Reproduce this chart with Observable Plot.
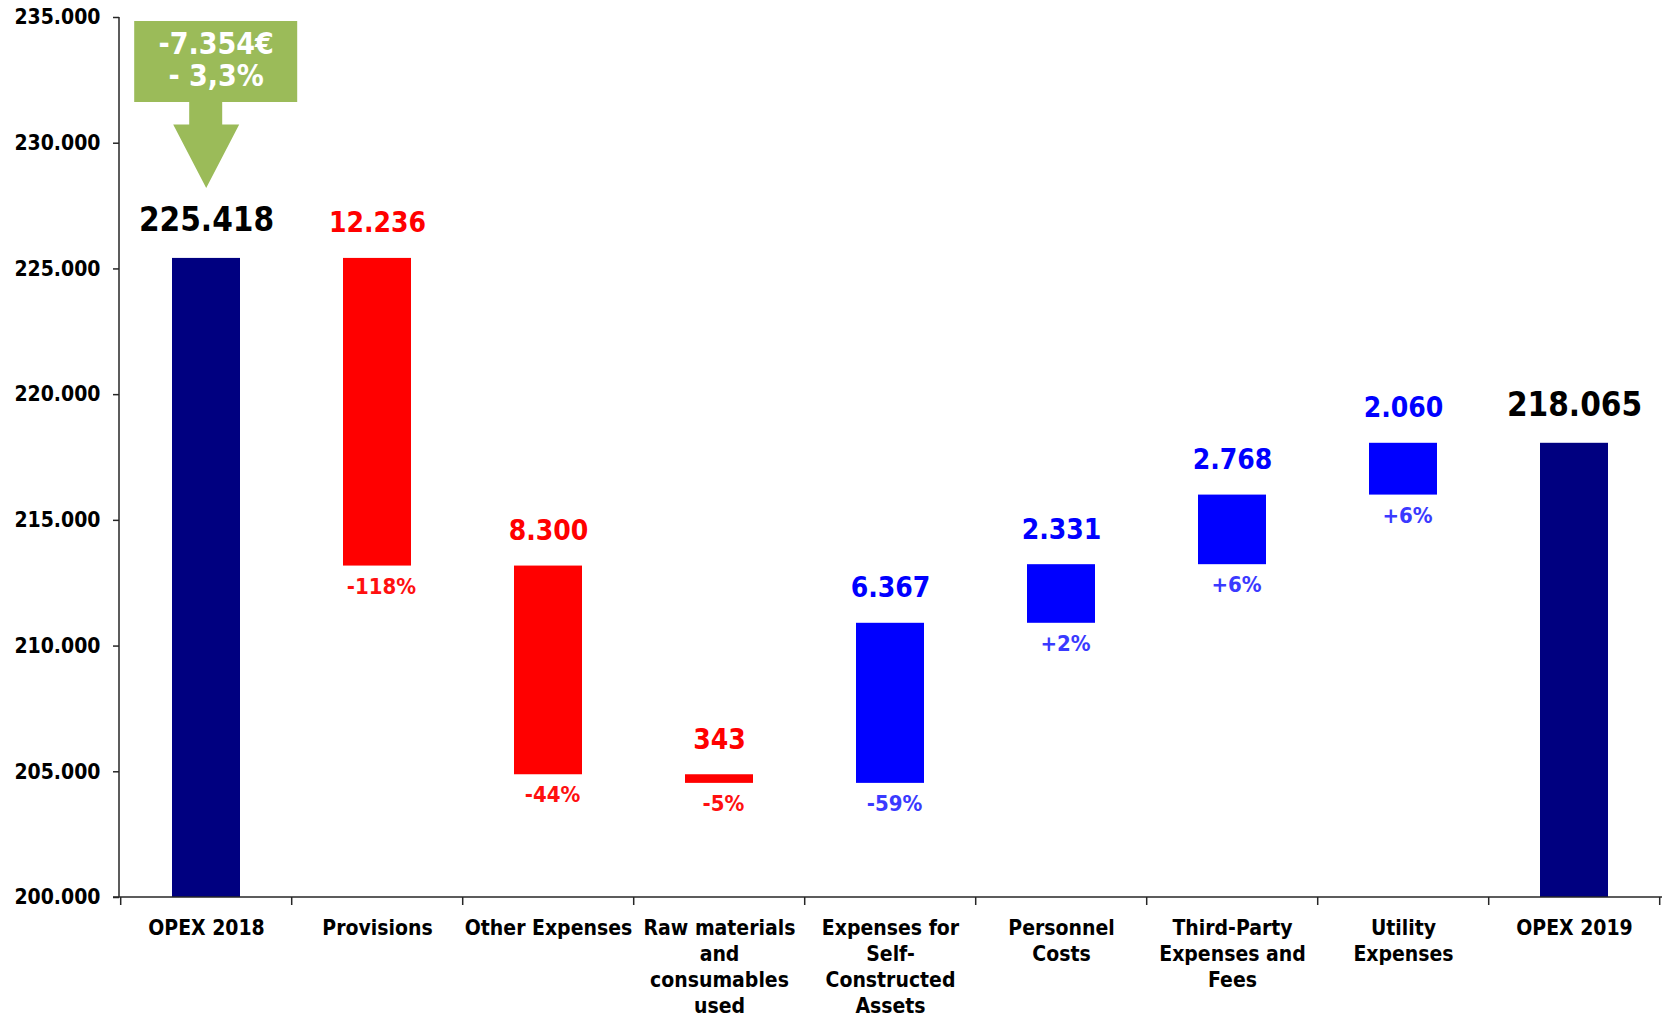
<!DOCTYPE html>
<html>
<head>
<meta charset="utf-8">
<script src="https://cdn.jsdelivr.net/npm/d3@7"></script>
<script src="https://cdn.jsdelivr.net/npm/@observablehq/plot@0.6"></script>
<style>
html, body { margin: 0; padding: 0; background: #fff; }
#chart svg { display: block; }
</style>
</head>
<body>
<div id="chart"></div>
<script>
// ---- data ----
const categories = ["OPEX 2018", "Provisions", "Other Expenses", "Raw materials and consumables used",
  "Expenses for Self-Constructed Assets", "Personnel Costs", "Third-Party Expenses and Fees",
  "Utility Expenses", "OPEX 2019"];
const tickLabels = ["OPEX 2018", "Provisions", "Other Expenses", "Raw materials\nand\nconsumables\nused",
  "Expenses for\nSelf-\nConstructed\nAssets", "Personnel\nCosts", "Third-Party\nExpenses and\nFees",
  "Utility\nExpenses", "OPEX 2019"];
const kinds = ["total", "down", "down", "down", "up", "up", "up", "up", "total"];
const amounts = [225418, -12236, -8300, -343, 6367, 2331, 2768, 2060, 218065];
const pctLabels = ["", "-118%", "-44%", "-5%", "-59%", "+2%", "+6%", "+6%", ""];
const yTicks = [200000, 205000, 210000, 215000, 220000, 225000, 230000, 235000];
const calloutLines = ["-7.354€", "- 3,3%"];

const barColor = {total: "#000080", down: "#FF0000", up: "#0000FF"};
const pctColor = {down: "#FF1010", up: "#3A3AFF"};
const fmt = v => d3.format(",")(Math.abs(v)).replace(/,/g, ".");

let running = 0;
const rows = categories.map((c, i) => {
  const k = kinds[i], v = amounts[i];
  let y1, y2;
  if (k === "total") { y1 = 0; y2 = v; running = v; }
  else { y1 = running; y2 = running + v; running = y2; }
  return {cat: c, kind: k, y1, y2, top: Math.max(y1, y2), bottom: Math.min(y1, y2), label: fmt(v), pct: pctLabels[i]};
});
const totals = rows.filter(d => d.kind === "total");
const changes = rows.filter(d => d.kind !== "total");

const PAD_IN = 0.6, PAD_OUT = 0.3;

// decorations drawn from the scales: axis lines, boundary ticks, callout arrow
function decorations(index, scales, values, dims) {
  const {x} = scales;
  const step = x(categories[1]) - x(categories[0]);
  const bw = step * (1 - PAD_IN);
  const g = d3.create("svg:g");
  const xl = dims.marginLeft, xr = dims.width - dims.marginRight;
  const yt = dims.marginTop, yb = dims.height - dims.marginBottom;
  const stroke = "#262626";
  g.append("line").attr("x1", xl).attr("x2", xl).attr("y1", yt).attr("y2", yb)
    .attr("stroke", stroke).attr("stroke-width", 1.5);
  g.append("line").attr("x1", xl - 6).attr("x2", xr).attr("y1", yb).attr("y2", yb)
    .attr("stroke", stroke).attr("stroke-width", 1.5);
  const bounds = categories.map(c => x(c) - step * PAD_IN / 2);
  bounds.push(x(categories[categories.length - 1]) + bw + step * PAD_IN / 2);
  for (const b of bounds) {
    g.append("line").attr("x1", b).attr("x2", b).attr("y1", yb).attr("y2", yb + 8)
      .attr("stroke", stroke).attr("stroke-width", 1.5);
  }
  // callout arrow above first total
  const cx = x(categories[0]) + bw / 2;
  const top = yt + 4;
  const pts = [
    [cx - 72, top], [cx + 91, top], [cx + 91, top + 81], [cx + 16, top + 81],
    [cx + 16, top + 103.6], [cx + 33, top + 103.6], [cx, top + 167],
    [cx - 33, top + 103.6], [cx - 17, top + 103.6], [cx - 17, top + 81], [cx - 72, top + 81]
  ];
  g.append("path").attr("d", "M" + pts.map(p => p.join(",")).join("L") + "Z")
    .attr("fill", "#9BBB59");
  return g.node();
}

const chart = Plot.plot({
  width: 1668,
  height: 1021,
  marginLeft: 119,
  marginRight: 6,
  marginTop: 17,
  marginBottom: 124,
  style: {
    fontFamily: '"DejaVu Sans Condensed", "DejaVu Sans", sans-serif',
    fontWeight: "bold",
    fontSize: "21px",
    color: "#000",
    background: "#fff"
  },
  x: {domain: categories, paddingInner: PAD_IN, paddingOuter: PAD_OUT, label: null},
  y: {domain: [200000, 235000], label: null},
  marks: [
    Plot.barY(rows, {x: "cat", y1: "y1", y2: "y2", fill: d => barColor[d.kind], clip: true}),
    Plot.axisY({ticks: yTicks, tickFormat: fmt, tickSize: 6, tickPadding: 13, label: null,
      stroke: "#262626", strokeWidth: 1.5, fill: "#000"}),
    Plot.axisX({tickSize: 0, tickPadding: 19, label: null, lineHeight: 1.24, fill: "#000",
      tickFormat: d => tickLabels[categories.indexOf(d)]}),
    decorations,
    Plot.text(changes, {x: "cat", y: "top", text: "label", fill: d => barColor[d.kind],
      fontSize: 28, lineAnchor: "bottom", dy: -26}),
    Plot.text(totals, {x: "cat", y: "top", text: "label", fill: "#000",
      fontSize: 33, lineAnchor: "bottom", dy: -27}),
    Plot.text(changes, {x: "cat", y: "bottom", text: "pct", fill: d => pctColor[d.kind],
      fontSize: 22, lineAnchor: "top", dy: 12, dx: 4}),
    Plot.text([calloutLines.join("\n")], {x: () => categories[0], frameAnchor: "top",
      text: d => d, fill: "#fff", fontSize: 30, lineAnchor: "top", lineHeight: 1.07, dy: 14, dx: 9.6})
  ]
});
document.getElementById("chart").appendChild(chart);
</script>
</body>
</html>
